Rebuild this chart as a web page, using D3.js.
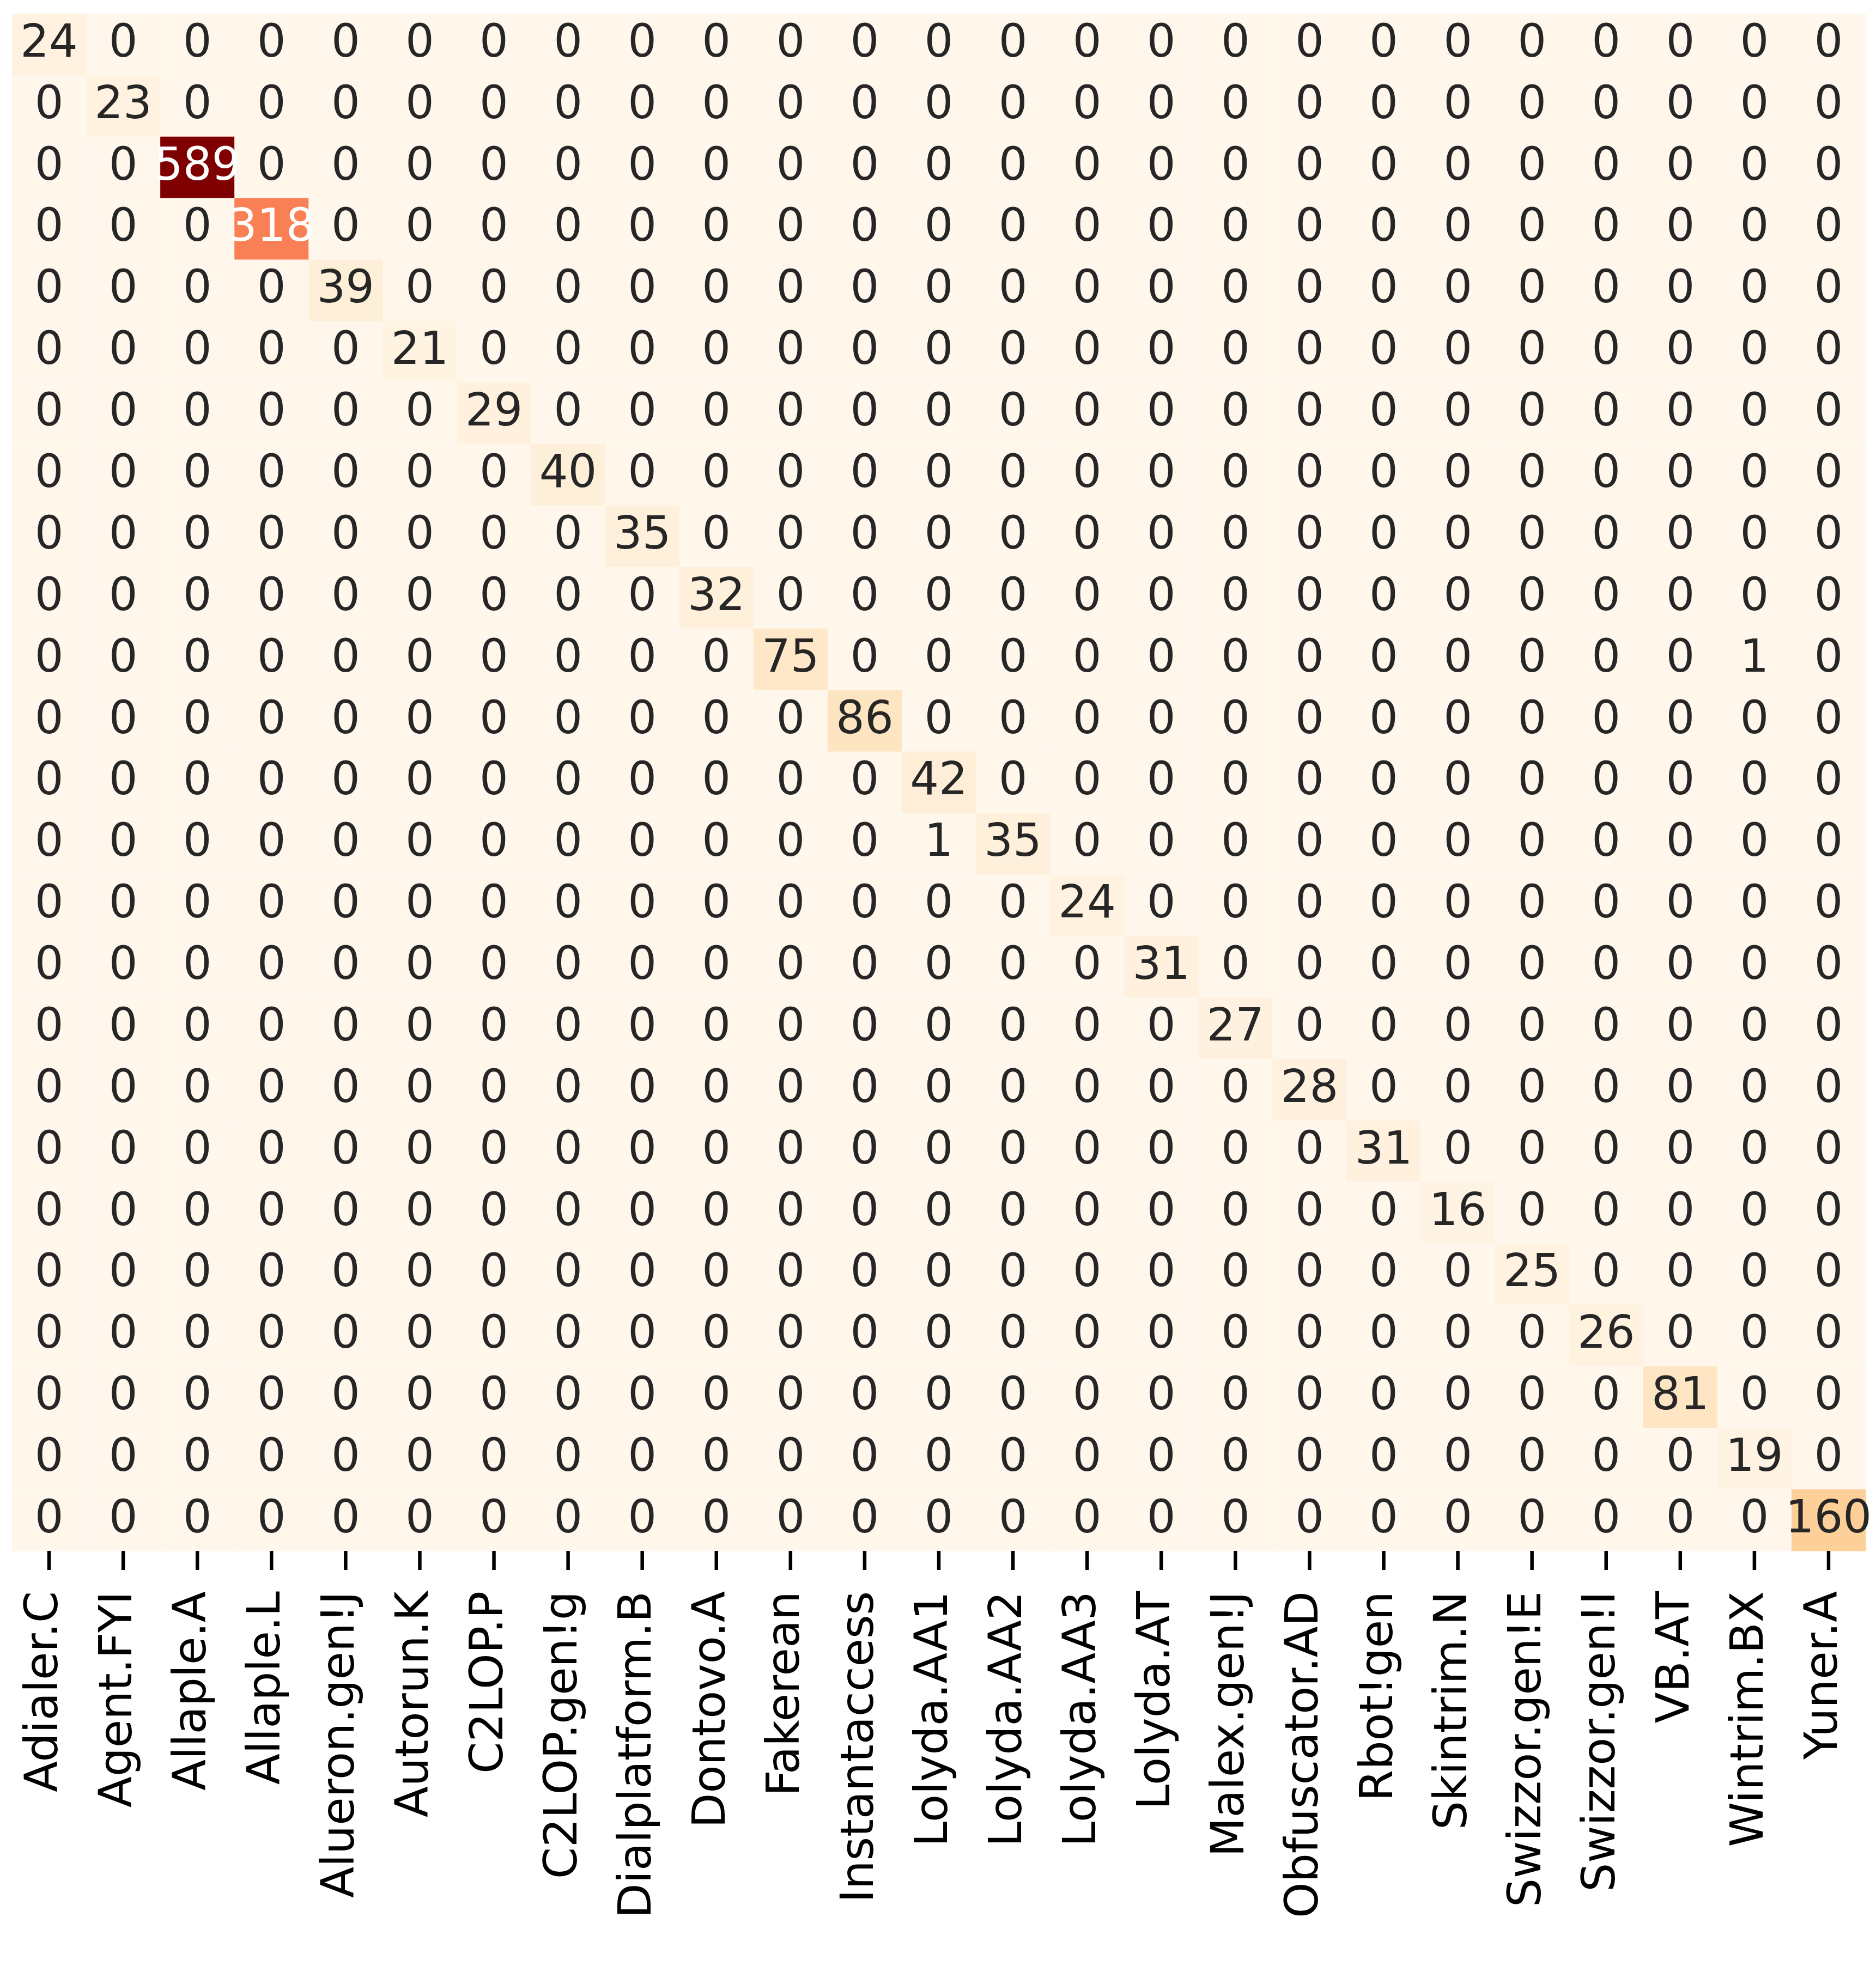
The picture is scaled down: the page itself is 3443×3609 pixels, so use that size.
<!DOCTYPE html>
<html>
<head>
<meta charset="utf-8">
<script src="https://cdn.jsdelivr.net/npm/d3@7"></script>
<style>
  body { margin: 0; background: #fff; }
  svg { display: block; }
</style>
</head>
<body>
<svg width="3443" height="3609"></svg>
<script>
// classes (same order on both axes)
var labels = ["Adialer.C", "Agent.FYI", "Allaple.A", "Allaple.L", "Alueron.gen!J",
  "Autorun.K", "C2LOP.P", "C2LOP.gen!g", "Dialplatform.B", "Dontovo.A",
  "Fakerean", "Instantaccess", "Lolyda.AA1", "Lolyda.AA2", "Lolyda.AA3",
  "Lolyda.AT", "Malex.gen!J", "Obfuscator.AD", "Rbot!gen", "Skintrim.N",
  "Swizzor.gen!E", "Swizzor.gen!I", "VB.AT", "Wintrim.BX", "Yuner.A"];

// correct predictions on the diagonal
var diagonal = [24, 23, 589, 318, 39, 21, 29, 40, 35, 32, 75, 86, 42, 35, 24,
  31, 27, 28, 31, 16, 25, 26, 81, 19, 160];

// the few off-diagonal hits: [row, col, count]
var misses = [[10, 23, 1], [13, 12, 1]];

var svg = d3.select("svg"),
    plotLeft = 22, plotRight = 3424,
    plotTop = 25, plotBottom = 2847;

// build the full matrix from the arrays above
var cells = [];
labels.forEach(function(r, i) {
  labels.forEach(function(c, j) {
    cells.push({row: r, col: c, value: i == j ? diagonal[i] : 0});
  });
});
misses.forEach(function(m) {
  cells[m[0] * labels.length + m[1]].value = m[2];
});

var vmax = d3.max(cells, d => d.value);

var x = d3.scaleBand().domain(labels).range([plotLeft, plotRight]);
var y = d3.scaleBand().domain(labels).range([plotTop, plotBottom]);

// matplotlib OrRd = linear through the 9 colorbrewer stops
var stops = d3.schemeOrRd[9];
var color = d3.scaleLinear()
    .domain(stops.map((s, i) => i * vmax / (stops.length - 1)))
    .range(stops)
    .interpolate(d3.interpolateRgb);

function lum(c) {
  var rgb = d3.rgb(c);
  var f = v => { v /= 255; return v <= 0.03928 ? v / 12.92 : Math.pow((v + 0.055) / 1.055, 2.4); };
  return 0.2126 * f(rgb.r) + 0.7152 * f(rgb.g) + 0.0722 * f(rgb.b);
}

var g = svg.append("g");

g.selectAll("rect")
  .data(cells)
  .enter().append("rect")
    .attr("x", d => x(d.col))
    .attr("y", d => y(d.row))
    .attr("width", x.bandwidth() + 0.5)
    .attr("height", y.bandwidth() + 0.5)
    .attr("fill", d => color(d.value));

g.selectAll("text.annot")
  .data(cells)
  .enter().append("text")
    .attr("class", "annot")
    .attr("x", d => x(d.col) + x.bandwidth() / 2)
    .attr("y", d => y(d.row) + y.bandwidth() / 2)
    .attr("dy", "0.27em")
    .attr("text-anchor", "middle")
    .style("font-family", "DejaVu Sans")
    .style("font-size", "83px")
    .attr("fill", d => lum(color(d.value)) > 0.408 ? "#262626" : "#ffffff")
    .text(d => d.value);

// x axis: ticks + rotated class names
var xAxis = svg.append("g")
    .attr("transform", "translate(0," + plotBottom + ")")
    .call(d3.axisBottom(x).tickSize(35).tickSizeOuter(0));

xAxis.select(".domain").remove();
xAxis.selectAll(".tick line")
    .attr("stroke", "#000")
    .attr("stroke-width", 6.5);
xAxis.selectAll(".tick text")
    .attr("transform", "rotate(-90)")
    .attr("x", -74)
    .attr("y", 0)
    .attr("dy", "0.18em")
    .attr("text-anchor", "end")
    .attr("fill", "#000")
    .style("font-family", "DejaVu Sans")
    .style("font-size", "83.5px");
</script>
</body>
</html>
